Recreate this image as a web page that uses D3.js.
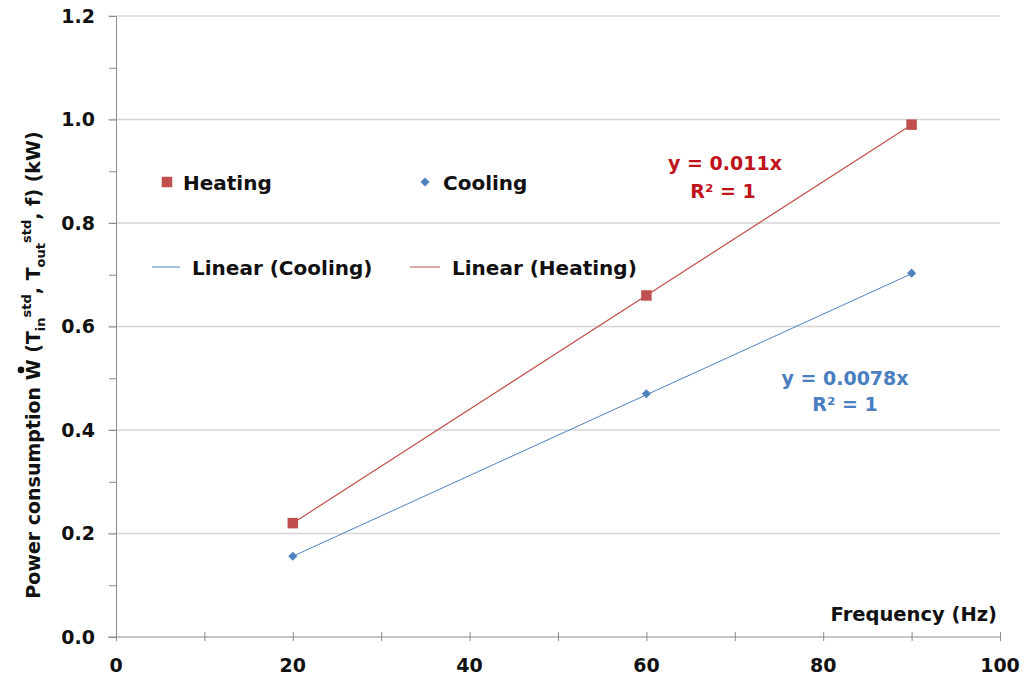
<!DOCTYPE html>
<html><head><meta charset="utf-8">
<script src="https://cdn.jsdelivr.net/npm/d3@7/dist/d3.min.js"></script>
<style>body{margin:0;background:#fff}svg{display:block}text{font-family:"DejaVu Sans",sans-serif;font-weight:bold}</style>
</head><body><svg id="c" width="1027" height="681"></svg>
<script>
const frequency = [20, 60, 90];
const heating = [0.22, 0.66, 0.99];
const cooling = [0.156, 0.47, 0.703];
const heatingSlope = 0.011;
const coolingSlope = 0.0078;
const xTicks = [0, 20, 40, 60, 80, 100];
const yTicks = [0, 0.2, 0.4, 0.6, 0.8, 1.0, 1.2];

const svg = d3.select("#c");
const x = d3.scaleLinear().domain([0, 100]).range([116, 1000]);
const y = d3.scaleLinear().domain([0, 1.2]).range([637, 16]);
const red = "#c0504d", blue = "#4f81bd", axisCol = "#8c8c8c";

// gridlines
svg.append("g").selectAll("line").data(yTicks.filter(d => d > 0)).join("line")
  .attr("x1", 108).attr("x2", 1000).attr("y1", d => y(d)).attr("y2", d => y(d))
  .attr("stroke", "#d4d4d4").attr("stroke-width", 1.3);

// y axis
const yAxis = d3.axisLeft(y).tickValues(d3.range(0, 1.21, 0.1)).tickSize(7).tickFormat("");
const gy = svg.append("g").attr("transform", "translate(116,0)").call(yAxis);
gy.select(".domain").attr("stroke", axisCol);
gy.selectAll(".tick line").attr("stroke", axisCol);
svg.append("g").selectAll("text").data(yTicks).join("text")
  .attr("x", 95).attr("y", d => y(d)).attr("dy", "0.36em").attr("text-anchor", "end")
  .attr("font-size", 19).attr("fill", "#111").text(d => d.toFixed(1));

// x axis
const xAxis = d3.axisBottom(x).tickValues(d3.range(0, 101, 10)).tickSize(4).tickFormat("");
const gx = svg.append("g").attr("transform", "translate(0,637)").call(xAxis);
gx.select(".domain").attr("stroke", axisCol).attr("d", "M108,0H1000");
gx.selectAll(".tick line").attr("stroke", axisCol).attr("y1", -5);
svg.append("g").selectAll("text").data(xTicks).join("text")
  .attr("x", d => x(d)).attr("y", 672).attr("text-anchor", "middle")
  .attr("font-size", 19).attr("fill", "#111").text(d => d);

// trendlines
const xr = d3.extent(frequency);
svg.append("line").attr("x1", x(xr[0])).attr("x2", x(xr[1]))
  .attr("y1", y(coolingSlope * xr[0])).attr("y2", y(coolingSlope * xr[1]))
  .attr("stroke", blue).attr("stroke-width", 1);
svg.append("line").attr("x1", x(xr[0])).attr("x2", x(xr[1]))
  .attr("y1", y(heatingSlope * xr[0])).attr("y2", y(heatingSlope * xr[1]))
  .attr("stroke", red).attr("stroke-width", 1.2);

// markers
const sq = d3.symbol().type(d3.symbolSquare).size(110);
const dm = d3.symbol().type(d3.symbolSquare).size(42);
svg.append("g").selectAll("path").data(frequency).join("path")
  .attr("d", sq).attr("fill", red)
  .attr("transform", (d, i) => `translate(${x(d)},${y(heating[i])})`);
svg.append("g").selectAll("path").data(frequency).join("path")
  .attr("d", dm).attr("fill", blue)
  .attr("transform", (d, i) => `translate(${x(d)},${y(cooling[i])}) rotate(45)`);

// legend
svg.append("path").attr("d", sq).attr("fill", red).attr("transform", "translate(167,182)");
svg.append("text").attr("x", 183).attr("y", 190).attr("font-size", 20).attr("fill", "#111").text("Heating");
svg.append("path").attr("d", dm).attr("fill", blue).attr("transform", "translate(425,182) rotate(45)");
svg.append("text").attr("x", 443).attr("y", 190).attr("font-size", 20).attr("fill", "#111").text("Cooling");
svg.append("line").attr("x1", 152).attr("x2", 180).attr("y1", 267).attr("y2", 267).attr("stroke", blue);
svg.append("text").attr("x", 192).attr("y", 275).attr("font-size", 20).attr("fill", "#111").text("Linear (Cooling)");
svg.append("line").attr("x1", 410).attr("x2", 440).attr("y1", 267).attr("y2", 267).attr("stroke", red);
svg.append("text").attr("x", 452).attr("y", 275).attr("font-size", 20).attr("fill", "#111").text("Linear (Heating)");

// equations
svg.append("text").attr("x", 725).attr("y", 170).attr("text-anchor", "middle").attr("font-size", 19).attr("fill", "#c0131b").text("y = 0.011x");
svg.append("text").attr("x", 723).attr("y", 198).attr("text-anchor", "middle").attr("font-size", 19).attr("fill", "#c0131b").text("R² = 1");
svg.append("text").attr("x", 845).attr("y", 385).attr("text-anchor", "middle").attr("font-size", 19).attr("fill", "#4a7ebf").text("y = 0.0078x");
svg.append("text").attr("x", 845).attr("y", 411).attr("text-anchor", "middle").attr("font-size", 19).attr("fill", "#4a7ebf").text("R² = 1");

// axis titles
svg.append("text").attr("x", 997).attr("y", 621).attr("text-anchor", "end").attr("font-size", 19.5).attr("fill", "#111").text("Frequency (Hz)");
const ytg = svg.append("g").attr("transform", "translate(40,365) rotate(-90)");
const yt = ytg.append("text").attr("text-anchor", "middle").attr("font-size", 19).attr("fill", "#111");
yt.append("tspan").text("Power consumption W (T");
yt.append("tspan").attr("font-size", 13).attr("dy", 5).text("in");
yt.append("tspan").attr("font-size", 13).attr("dy", -14).text("std");
yt.append("tspan").attr("dy", 9).text(", T");
yt.append("tspan").attr("font-size", 13).attr("dy", 5).text("out");
yt.append("tspan").attr("font-size", 13).attr("dy", -14).text("std");
yt.append("tspan").attr("dy", 9).text(", f)  (kW)");
// dot above W
const wIdx = "Power consumption ".length;
const ext = yt.node().getExtentOfChar(wIdx);
ytg.append("circle").attr("cx", ext.x + ext.width / 2).attr("cy", ext.y - 1).attr("r", 3.3).attr("fill", "#111");
</script></body></html>
